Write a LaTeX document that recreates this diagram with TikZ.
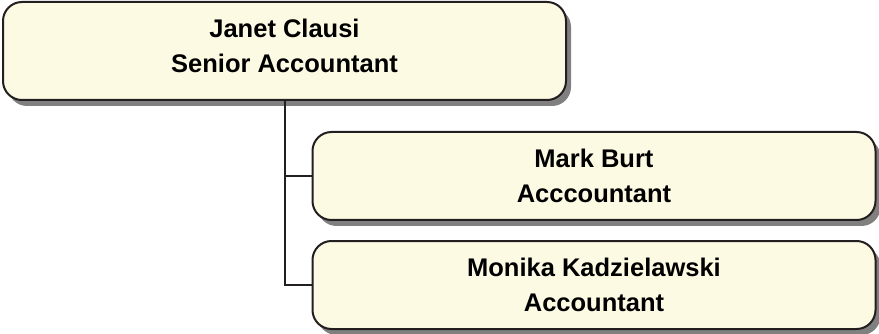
\documentclass[tikz,border=0pt]{standalone}
\usepackage{fontspec}
\setmainfont{Liberation Sans}
\usetikzlibrary{shadows}
\definecolor{boxfill}{RGB}{253,250,228}
\definecolor{boxline}{RGB}{35,31,32}
\tikzset{
  person/.style={draw=boxline, line width=2pt, fill=boxfill, rounded corners=19pt,
    minimum width=563pt, minimum height=88pt, align=center, inner sep=0pt,
    font=\bfseries\fontsize{25.5}{35}\selectfont,
    drop shadow={shadow xshift=5pt, shadow yshift=-6pt, fill=black!50, opacity=1}},
  link/.style={draw=boxline, line width=2pt}
}
\begin{document}
\begin{tikzpicture}[x=1pt, y=-1pt]
  \useasboundingbox (0,0) rectangle (879,334);
  \node[person, minimum height=98pt, text depth=11pt] (janet) at (284.5,51) {Janet Clausi\\Senior Accountant};
  \node[person] (mark) at (594,176) {Mark Burt\\Acccountant};
  \node[person] (monika) at (594,285) {Monika Kadzielawski\\Accountant};
  \draw[link] (janet.south) |- (mark.west);
  \draw[link] (janet.south) |- (monika.west);
\end{tikzpicture}
\end{document}
